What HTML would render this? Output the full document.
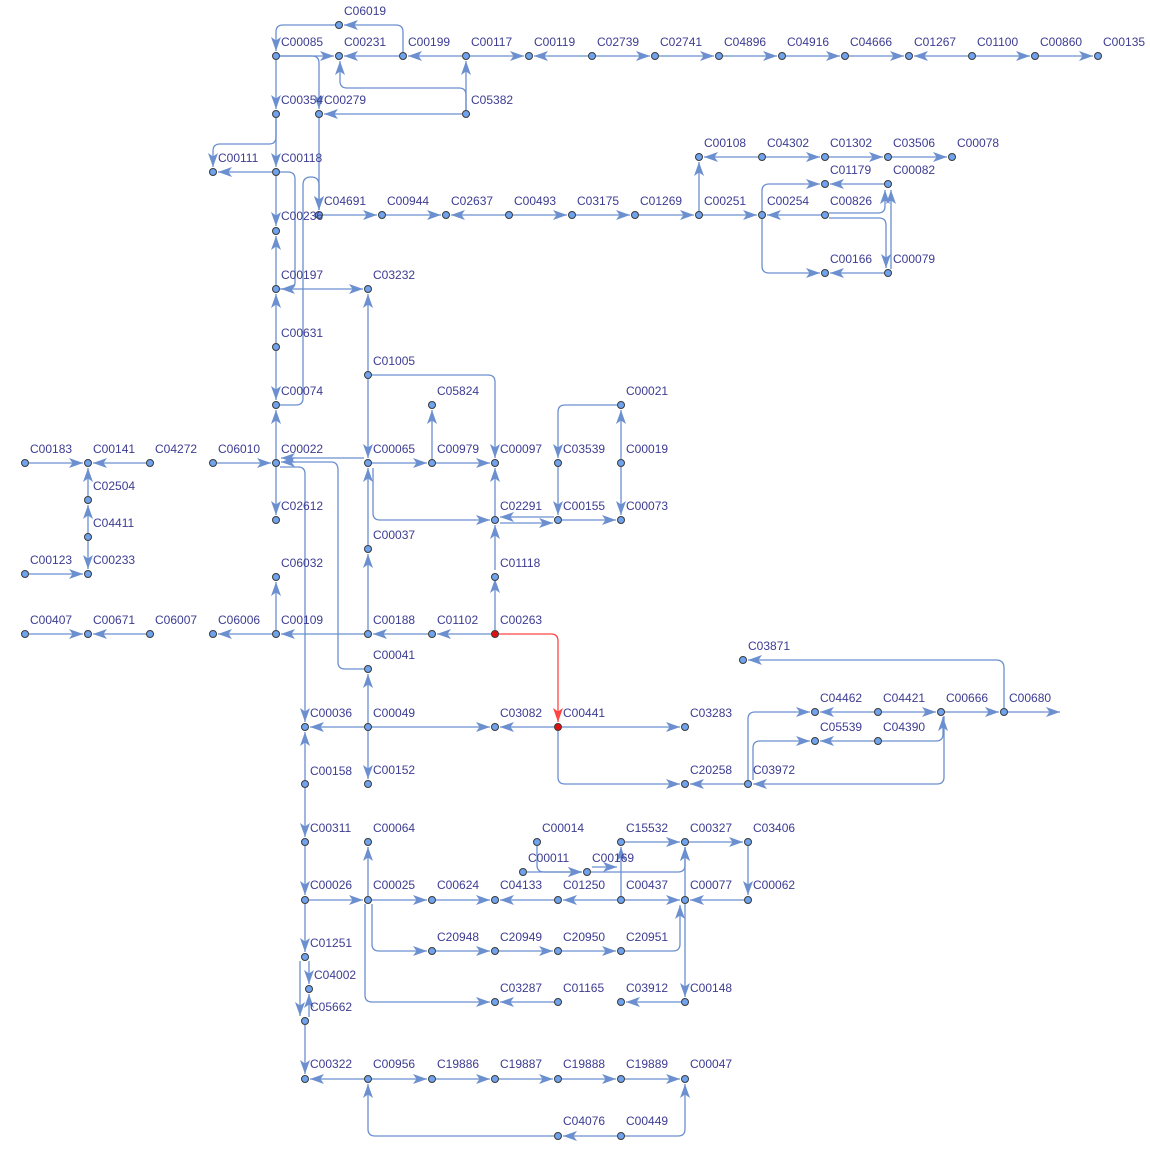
<!DOCTYPE html>
<html><head><meta charset="utf-8"><style>
html,body{margin:0;padding:0;background:#fff;}
svg{display:block;}
text{font-family:"Liberation Sans",sans-serif;font-size:12px;fill:#3c3c92;}
.e{fill:none;stroke:#6b8fcf;stroke-width:1.3;marker-end:url(#a);}
.r{fill:none;stroke:#ff4444;stroke-width:1.3;marker-end:url(#ar);}
circle{fill:#6fa3ee;stroke:#3a3a3a;stroke-width:1;}
circle.red{fill:#e01010;}
</style></head><body>
<svg width="1150" height="1162" viewBox="0 0 1150 1162" xmlns="http://www.w3.org/2000/svg">
<defs>
<marker id="a" markerWidth="16" markerHeight="11" refX="14" refY="5" orient="auto" markerUnits="userSpaceOnUse"><path d="M0,0 L14,5 L0,10 L3.5,5 Z" fill="#6b8fcf"/></marker>
<marker id="ar" markerWidth="16" markerHeight="11" refX="14" refY="5" orient="auto" markerUnits="userSpaceOnUse"><path d="M0,0 L14,5 L0,10 L3.5,5 Z" fill="#ff4444"/></marker>
</defs>
<g>
<path class="e" d="M280,56H334"/><path class="e" d="M399,56H344"/><path class="e" d="M462,56H408"/><path class="e" d="M470,56H524"/>
<path class="e" d="M588,56H534"/><path class="e" d="M596,56H650"/><path class="e" d="M659,56H714"/><path class="e" d="M723,56H777"/>
<path class="e" d="M786,56H840"/><path class="e" d="M849,56H904"/><path class="e" d="M968,56H914"/><path class="e" d="M976,56H1030"/><path class="e" d="M1039,56H1093"/>
<path class="e" d="M403,52V32Q403,25 396,25H344"/><path class="e" d="M335,25H283Q276,25 276,32V51"/>
<path class="e" d="M276,60V109"/><path class="e" d="M280,56H312Q319,56 319,63V109"/>
<path class="e" d="M462,114H324"/><path class="e" d="M466,110V61"/><path class="e" d="M466,110V95Q466,88 459,88H347Q340,88 340,81V61"/>
<path class="e" d="M276,118V167"/><path class="e" d="M276,118V137Q276,144 269,144H220Q213,144 213,151V167"/>
<path class="e" d="M272,172H218"/><path class="e" d="M276,176V226"/><path class="e" d="M319,118V210"/>
<path class="e" d="M280,172H288Q295,172 295,179V282Q295,289 288,289H281"/>
<path class="e" d="M280,405H296Q303,405 303,398V185Q303,177 311,177Q319,177 319,185V210"/>
<path class="e" d="M276,285V236"/><path class="e" d="M280,289H363"/><path class="e" d="M276,343V294"/><path class="e" d="M276,351V400"/><path class="e" d="M276,459V410"/>
<path class="e" d="M323,215H377"/><path class="e" d="M386,215H441"/><path class="e" d="M505,215H451"/><path class="e" d="M513,215H567"/>
<path class="e" d="M576,215H630"/><path class="e" d="M639,215H694"/><path class="e" d="M703,215H757"/><path class="e" d="M699,211V162"/>
<path class="e" d="M758,157H704"/><path class="e" d="M766,157H820"/><path class="e" d="M829,157H883"/><path class="e" d="M892,157H947"/>
<path class="e" d="M884,184H830"/><path class="e" d="M762,211V191Q762,184 769,184H820"/><path class="e" d="M821,215H767"/>
<path class="e" d="M829,213H878Q885,213 885,206V190"/><path class="e" d="M829,218H879Q886,218 886,225V268"/>
<path class="e" d="M762,219V266Q762,273 769,273H820"/><path class="e" d="M884,273H830"/><path class="e" d="M891,269V190"/>
<path class="e" d="M368,371V294"/><path class="e" d="M368,379V458"/><path class="e" d="M372,375H488Q495,375 495,382V458"/>
<path class="e" d="M432,459V410"/><path class="e" d="M372,463H427"/><path class="e" d="M436,463H490"/>
<path class="e" d="M364,458H281"/><path class="e" d="M217,463H271"/>
<path class="e" d="M364,669H345Q338,669 338,662V470Q338,462 331,462H281"/>
<path class="e" d="M280,467H298Q305,467 305,474V722"/><path class="e" d="M276,467V515"/>
<path class="e" d="M368,630V554"/><path class="e" d="M368,545V468"/><path class="e" d="M373,468V513Q373,520 380,520H490"/>
<path class="e" d="M495,516V468"/><path class="e" d="M495,570V525"/><path class="e" d="M495,630V579"/>
<path class="e" d="M554,517H500"/><path class="e" d="M500,523H553"/><path class="e" d="M562,520H616"/><path class="e" d="M558,467V515"/>
<path class="e" d="M617,405H565Q558,405 558,412V458"/><path class="e" d="M621,459V410"/><path class="e" d="M621,467V515"/>
<path class="e" d="M29,463H83"/><path class="e" d="M146,463H93"/><path class="e" d="M88,496V468"/><path class="e" d="M88,533V505"/><path class="e" d="M88,541V569"/>
<path class="e" d="M29,574H83"/><path class="e" d="M29,634H83"/><path class="e" d="M146,634H93"/>
<path class="e" d="M272,634H218"/><path class="e" d="M364,634H281"/><path class="e" d="M428,634H373"/><path class="e" d="M491,634H437"/><path class="e" d="M276,630V582"/>
<path class="r" d="M499,634H551Q558,634 558,641V722"/>
<path class="e" d="M368,723V674"/><path class="e" d="M364,727H310"/><path class="e" d="M372,727H490"/><path class="e" d="M554,727H500"/><path class="e" d="M562,727H680"/>
<path class="e" d="M368,731V779"/><path class="e" d="M305,780V732"/><path class="e" d="M558,731V777Q558,784 565,784H680"/><path class="e" d="M744,784H690"/>
<path class="e" d="M1004,708V668Q1004,660 996,660H748"/><path class="e" d="M1008,712H1060"/><path class="e" d="M945,712H999"/>
<path class="e" d="M882,712H936"/><path class="e" d="M874,712H820"/><path class="e" d="M748,780V719Q748,712 755,712H810"/>
<path class="e" d="M753,780V748Q753,741 760,741H810"/><path class="e" d="M874,741H820"/><path class="e" d="M882,741H936Q943,741 943,734V717"/>
<path class="e" d="M944,716V777Q944,784 937,784H753"/>
<path class="e" d="M305,788V837"/><path class="e" d="M305,846V895"/><path class="e" d="M309,900H363"/><path class="e" d="M368,896V847"/>
<path class="e" d="M372,900H427"/><path class="e" d="M436,900H490"/><path class="e" d="M554,900H500"/><path class="e" d="M617,900H563"/>
<path class="e" d="M625,900H680"/><path class="e" d="M744,900H690"/><path class="e" d="M621,896V847"/>
<path class="e" d="M591,872H678Q685,872 685,865V847"/><path class="e" d="M592,867H617"/>
<path class="e" d="M685,896V847"/><path class="e" d="M625,842H680"/><path class="e" d="M689,842H743"/><path class="e" d="M748,846V895"/>
<path class="e" d="M527,872H582"/><path class="e" d="M537,846V865Q537,872 544,872H582"/>
<path class="e" d="M625,951H673Q680,951 680,944V905"/>
<path class="e" d="M372,904V944Q372,951 379,951H427"/><path class="e" d="M436,951H490"/><path class="e" d="M499,951H553"/><path class="e" d="M562,951H616"/>
<path class="e" d="M365,904V995Q365,1002 372,1002H490"/><path class="e" d="M554,1002H500"/><path class="e" d="M681,1002H626"/><path class="e" d="M685,904V997"/>
<path class="e" d="M305,904V952"/><path class="e" d="M309,961V984"/><path class="e" d="M309,1017V994"/><path class="e" d="M300,961V1016"/><path class="e" d="M305,1025V1074"/>
<path class="e" d="M364,1079H310"/><path class="e" d="M372,1079H427"/><path class="e" d="M436,1079H490"/><path class="e" d="M499,1079H553"/><path class="e" d="M562,1079H616"/><path class="e" d="M625,1079H680"/>
<path class="e" d="M617,1136H563"/><path class="e" d="M625,1136H678Q685,1136 685,1129V1084"/><path class="e" d="M554,1136H375Q368,1136 368,1129V1084"/>
</g>
<g>
<circle cx="339" cy="25" r="3.5"/><text x="344" y="15">C06019</text>
<circle cx="276" cy="56" r="3.5"/><text x="281" y="46">C00085</text>
<circle cx="339" cy="56" r="3.5"/><text x="344" y="46">C00231</text>
<circle cx="403" cy="56" r="3.5"/><text x="408" y="46">C00199</text>
<circle cx="466" cy="56" r="3.5"/><text x="471" y="46">C00117</text>
<circle cx="529" cy="56" r="3.5"/><text x="534" y="46">C00119</text>
<circle cx="592" cy="56" r="3.5"/><text x="597" y="46">C02739</text>
<circle cx="655" cy="56" r="3.5"/><text x="660" y="46">C02741</text>
<circle cx="719" cy="56" r="3.5"/><text x="724" y="46">C04896</text>
<circle cx="782" cy="56" r="3.5"/><text x="787" y="46">C04916</text>
<circle cx="845" cy="56" r="3.5"/><text x="850" y="46">C04666</text>
<circle cx="909" cy="56" r="3.5"/><text x="914" y="46">C01267</text>
<circle cx="972" cy="56" r="3.5"/><text x="977" y="46">C01100</text>
<circle cx="1035" cy="56" r="3.5"/><text x="1040" y="46">C00860</text>
<circle cx="1098" cy="56" r="3.5"/><text x="1103" y="46">C00135</text>
<circle cx="276" cy="114" r="3.5"/><text x="281" y="104">C00354</text>
<circle cx="319" cy="114" r="3.5"/><text x="324" y="104">C00279</text>
<circle cx="466" cy="114" r="3.5"/><text x="471" y="104">C05382</text>
<circle cx="213" cy="172" r="3.5"/><text x="218" y="162">C00111</text>
<circle cx="276" cy="172" r="3.5"/><text x="281" y="162">C00118</text>
<circle cx="699" cy="157" r="3.5"/><text x="704" y="147">C00108</text>
<circle cx="762" cy="157" r="3.5"/><text x="767" y="147">C04302</text>
<circle cx="825" cy="157" r="3.5"/><text x="830" y="147">C01302</text>
<circle cx="888" cy="157" r="3.5"/><text x="893" y="147">C03506</text>
<circle cx="952" cy="157" r="3.5"/><text x="957" y="147">C00078</text>
<circle cx="825" cy="184" r="3.5"/><text x="830" y="174">C01179</text>
<circle cx="888" cy="184" r="3.5"/><text x="893" y="174">C00082</text>
<circle cx="319" cy="215" r="3.5"/><text x="324" y="205">C04691</text>
<circle cx="382" cy="215" r="3.5"/><text x="387" y="205">C00944</text>
<circle cx="446" cy="215" r="3.5"/><text x="451" y="205">C02637</text>
<circle cx="509" cy="215" r="3.5"/><text x="514" y="205">C00493</text>
<circle cx="572" cy="215" r="3.5"/><text x="577" y="205">C03175</text>
<circle cx="635" cy="215" r="3.5"/><text x="640" y="205">C01269</text>
<circle cx="699" cy="215" r="3.5"/><text x="704" y="205">C00251</text>
<circle cx="762" cy="215" r="3.5"/><text x="767" y="205">C00254</text>
<circle cx="825" cy="215" r="3.5"/><text x="830" y="205">C00826</text>
<circle cx="276" cy="231" r="3.5"/><text x="281" y="220">C00236</text>
<circle cx="825" cy="273" r="3.5"/><text x="830" y="263">C00166</text>
<circle cx="888" cy="273" r="3.5"/><text x="893" y="263">C00079</text>
<circle cx="276" cy="289" r="3.5"/><text x="281" y="279">C00197</text>
<circle cx="368" cy="289" r="3.5"/><text x="373" y="279">C03232</text>
<circle cx="276" cy="347" r="3.5"/><text x="281" y="337">C00631</text>
<circle cx="368" cy="375" r="3.5"/><text x="373" y="365">C01005</text>
<circle cx="276" cy="405" r="3.5"/><text x="281" y="395">C00074</text>
<circle cx="432" cy="405" r="3.5"/><text x="437" y="395">C05824</text>
<circle cx="621" cy="405" r="3.5"/><text x="626" y="395">C00021</text>
<circle cx="25" cy="463" r="3.5"/><text x="30" y="453">C00183</text>
<circle cx="88" cy="463" r="3.5"/><text x="93" y="453">C00141</text>
<circle cx="150" cy="463" r="3.5"/><text x="155" y="453">C04272</text>
<circle cx="213" cy="463" r="3.5"/><text x="218" y="453">C06010</text>
<circle cx="276" cy="463" r="3.5"/><text x="281" y="453">C00022</text>
<circle cx="368" cy="463" r="3.5"/><text x="373" y="453">C00065</text>
<circle cx="432" cy="463" r="3.5"/><text x="437" y="453">C00979</text>
<circle cx="495" cy="463" r="3.5"/><text x="500" y="453">C00097</text>
<circle cx="558" cy="463" r="3.5"/><text x="563" y="453">C03539</text>
<circle cx="621" cy="463" r="3.5"/><text x="626" y="453">C00019</text>
<circle cx="88" cy="500" r="3.5"/><text x="93" y="490">C02504</text>
<circle cx="88" cy="537" r="3.5"/><text x="93" y="527">C04411</text>
<circle cx="276" cy="520" r="3.5"/><text x="281" y="510">C02612</text>
<circle cx="495" cy="520" r="3.5"/><text x="500" y="510">C02291</text>
<circle cx="558" cy="520" r="3.5"/><text x="563" y="510">C00155</text>
<circle cx="621" cy="520" r="3.5"/><text x="626" y="510">C00073</text>
<circle cx="368" cy="549" r="3.5"/><text x="373" y="539">C00037</text>
<circle cx="25" cy="574" r="3.5"/><text x="30" y="564">C00123</text>
<circle cx="88" cy="574" r="3.5"/><text x="93" y="564">C00233</text>
<circle cx="495" cy="577" r="3.5"/><text x="500" y="567">C01118</text>
<circle cx="276" cy="577" r="3.5"/><text x="281" y="567">C06032</text>
<circle cx="25" cy="634" r="3.5"/><text x="30" y="624">C00407</text>
<circle cx="88" cy="634" r="3.5"/><text x="93" y="624">C00671</text>
<circle cx="150" cy="634" r="3.5"/><text x="155" y="624">C06007</text>
<circle cx="213" cy="634" r="3.5"/><text x="218" y="624">C06006</text>
<circle cx="276" cy="634" r="3.5"/><text x="281" y="624">C00109</text>
<circle cx="368" cy="634" r="3.5"/><text x="373" y="624">C00188</text>
<circle cx="432" cy="634" r="3.5"/><text x="437" y="624">C01102</text>
<circle class="red" cx="495" cy="634" r="3.5"/><text x="500" y="624">C00263</text>
<circle cx="368" cy="669" r="3.5"/><text x="373" y="659">C00041</text>
<circle cx="743" cy="660" r="3.5"/><text x="748" y="650">C03871</text>
<circle cx="815" cy="712" r="3.5"/><text x="820" y="702">C04462</text>
<circle cx="878" cy="712" r="3.5"/><text x="883" y="702">C04421</text>
<circle cx="941" cy="712" r="3.5"/><text x="946" y="702">C00666</text>
<circle cx="1004" cy="712" r="3.5"/><text x="1009" y="702">C00680</text>
<circle cx="305" cy="727" r="3.5"/><text x="310" y="717">C00036</text>
<circle cx="368" cy="727" r="3.5"/><text x="373" y="717">C00049</text>
<circle cx="495" cy="727" r="3.5"/><text x="500" y="717">C03082</text>
<circle class="red" cx="558" cy="727" r="3.5"/><text x="563" y="717">C00441</text>
<circle cx="685" cy="727" r="3.5"/><text x="690" y="717">C03283</text>
<circle cx="815" cy="741" r="3.5"/><text x="820" y="731">C05539</text>
<circle cx="878" cy="741" r="3.5"/><text x="883" y="731">C04390</text>
<circle cx="305" cy="784" r="3.5"/><text x="310" y="775">C00158</text>
<circle cx="368" cy="784" r="3.5"/><text x="373" y="774">C00152</text>
<circle cx="685" cy="784" r="3.5"/><text x="690" y="774">C20258</text>
<circle cx="748" cy="784" r="3.5"/><text x="753" y="774">C03972</text>
<circle cx="305" cy="842" r="3.5"/><text x="310" y="832">C00311</text>
<circle cx="368" cy="842" r="3.5"/><text x="373" y="832">C00064</text>
<circle cx="537" cy="842" r="3.5"/><text x="542" y="832">C00014</text>
<circle cx="621" cy="842" r="3.5"/><text x="626" y="832">C15532</text>
<circle cx="685" cy="842" r="3.5"/><text x="690" y="832">C00327</text>
<circle cx="748" cy="842" r="3.5"/><text x="753" y="832">C03406</text>
<circle cx="523" cy="872" r="3.5"/><text x="528" y="862">C00011</text>
<circle cx="587" cy="872" r="3.5"/><text x="592" y="862">C00169</text>
<circle cx="305" cy="900" r="3.5"/><text x="310" y="889">C00026</text>
<circle cx="368" cy="900" r="3.5"/><text x="373" y="889">C00025</text>
<circle cx="432" cy="900" r="3.5"/><text x="437" y="889">C00624</text>
<circle cx="495" cy="900" r="3.5"/><text x="500" y="889">C04133</text>
<circle cx="558" cy="900" r="3.5"/><text x="563" y="889">C01250</text>
<circle cx="621" cy="900" r="3.5"/><text x="626" y="889">C00437</text>
<circle cx="685" cy="900" r="3.5"/><text x="690" y="889">C00077</text>
<circle cx="748" cy="900" r="3.5"/><text x="753" y="889">C00062</text>
<circle cx="432" cy="951" r="3.5"/><text x="437" y="941">C20948</text>
<circle cx="495" cy="951" r="3.5"/><text x="500" y="941">C20949</text>
<circle cx="558" cy="951" r="3.5"/><text x="563" y="941">C20950</text>
<circle cx="621" cy="951" r="3.5"/><text x="626" y="941">C20951</text>
<circle cx="305" cy="957" r="3.5"/><text x="310" y="947">C01251</text>
<circle cx="309" cy="989" r="3.5"/><text x="314" y="979">C04002</text>
<circle cx="305" cy="1021" r="3.5"/><text x="310" y="1011">C05662</text>
<circle cx="495" cy="1002" r="3.5"/><text x="500" y="992">C03287</text>
<circle cx="558" cy="1002" r="3.5"/><text x="563" y="992">C01165</text>
<circle cx="621" cy="1002" r="3.5"/><text x="626" y="992">C03912</text>
<circle cx="685" cy="1002" r="3.5"/><text x="690" y="992">C00148</text>
<circle cx="305" cy="1079" r="3.5"/><text x="310" y="1068">C00322</text>
<circle cx="368" cy="1079" r="3.5"/><text x="373" y="1068">C00956</text>
<circle cx="432" cy="1079" r="3.5"/><text x="437" y="1068">C19886</text>
<circle cx="495" cy="1079" r="3.5"/><text x="500" y="1068">C19887</text>
<circle cx="558" cy="1079" r="3.5"/><text x="563" y="1068">C19888</text>
<circle cx="621" cy="1079" r="3.5"/><text x="626" y="1068">C19889</text>
<circle cx="685" cy="1079" r="3.5"/><text x="690" y="1068">C00047</text>
<circle cx="558" cy="1136" r="3.5"/><text x="563" y="1125">C04076</text>
<circle cx="621" cy="1136" r="3.5"/><text x="626" y="1125">C00449</text>
</g>
</svg>
</body></html>
